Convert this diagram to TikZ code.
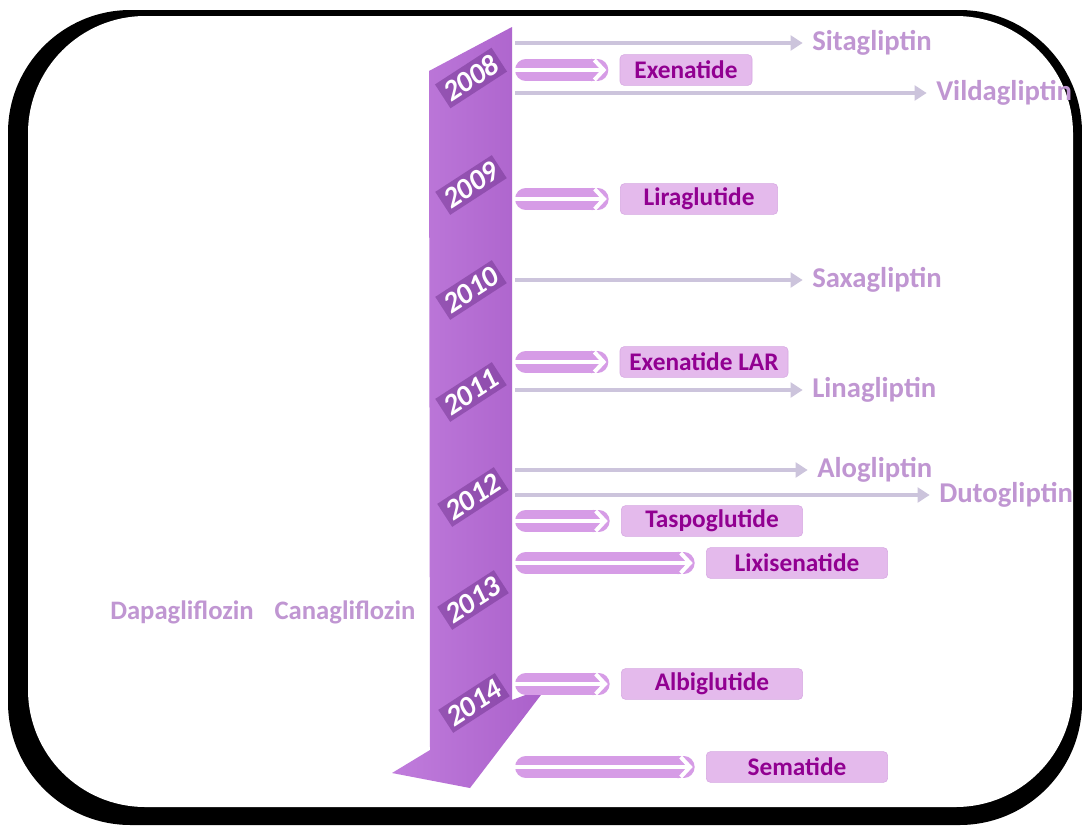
\documentclass[tikz,border=0pt]{standalone}
\usepackage{fontspec}
\setmainfont{Carlito}
\usetikzlibrary{arrows.meta,positioning,shapes,calc}
\definecolor{bandpurple}{RGB}{170,96,202}
\definecolor{bandlight}{RGB}{192,124,220}
\definecolor{banddark}{RGB}{105,45,135}
\definecolor{glpfill}{RGB}{228,186,236}
\definecolor{glpedge}{RGB}{214,168,226}
\definecolor{glptext}{RGB}{145,0,145}
\definecolor{glpglow}{RGB}{214,156,230}
\definecolor{dppline}{RGB}{204,196,220}
\definecolor{dpptext}{RGB}{192,150,210}

\begin{document}
\begin{tikzpicture}[x=0.75pt,y=-0.75pt,
      every node/.style={font=\bfseries\fontsize{19}{22}\selectfont},
      glpbox/.style={draw=glpedge,fill=glpfill,rounded corners=3pt,text=glptext,
                     minimum width=136pt,minimum height=23pt,inner sep=0pt},
      dpplbl/.style={text=dpptext,anchor=west,inner sep=0pt,
                     font=\bfseries\fontsize{21.5}{24}\selectfont},
      sgltlbl/.style={text=dpptext,font=\bfseries\fontsize{20}{24}\selectfont},
      yearlbl/.style={rotate=33,text=white,fill=banddark,fill opacity=0.45,text opacity=1,
                      inner sep=3pt,font=\bfseries\itshape\fontsize{22}{24}\selectfont},
      dpparr/.style={draw=dppline,line width=3pt,-{Triangle[length=9pt,width=11pt]},shorten >=7pt},
      glparr/.style={draw=white,line width=3pt,
                     -{Straight Barb[length=7pt,width=15pt,line width=3pt]},shorten >=10pt,
                     preaction={draw=glpglow,line width=16pt,line cap=round,
                                shorten <=8pt,shorten >=13pt}}]
    \useasboundingbox (0,0) rectangle (1082,825);
    % frame
    \fill[black,rounded corners=92pt] (8,10) rectangle (1082,825);
    \fill[white,rounded corners=88pt] (28,16) rectangle (1073,807);
    % timeline band
    \shade[left color=bandlight,right color=bandpurple]
      (429,71) -- (512,27) -- (512,700) -- (547,687) -- (470,788) -- (392,773) -- (430,750) -- cycle;
    \node[yearlbl] (y08) at (471,78)  {2008};
    \node[yearlbl] (y09) at (471,185) {2009};
    \node[yearlbl] (y10) at (471,290) {2010};
    \node[yearlbl] (y11) at (471,392) {2011};
    \node[yearlbl] (y12) at (473,497) {2012};
    \node[yearlbl] (y13) at (473,600) {2013};
    \node[yearlbl] (y14) at (474,703) {2014};
    % start points on the band
    \coordinate (s1) at (515,43);
    \coordinate (s2) at (515,70);
    \coordinate (s3) at (515,93);
    \coordinate (s4) at (515,199);
    \coordinate (s5) at (515,280);
    \coordinate (s6) at (515,362);
    \coordinate (s7) at (515,390);
    \coordinate (s8) at (515,470);
    \coordinate (s9) at (515,495);
    \coordinate (s10) at (515,521);
    \coordinate (s11) at (515,563);
    \coordinate (s12) at (515,684);
    \coordinate (s13) at (515,767);
    % GLP-1 boxes
    \node[glpbox,minimum width=99pt]    (exen)  at (686,70)  {Exenatide};
    \node[glpbox,minimum width=118pt]   (lira)  at (699,199) {Liraglutide};
    \node[glpbox,minimum width=126pt]   (exlar) at (704,362) {Exenatide LAR};
    \node[glpbox] (tasp) at (712,521) {Taspoglutide};
    \node[glpbox] (lixi) at (797,563) {Lixisenatide};
    \node[glpbox] (albi) at (712,684) {Albiglutide};
    \node[glpbox] (sema) at (797,767) {Sematide};
    % DPP-4 labels
    \node[dpplbl] (sita) at (812,43)  {Sitagliptin};
    \node[dpplbl] (vild) at (936,93)  {Vildagliptin};
    \node[dpplbl] (saxa) at (812,280) {Saxagliptin};
    \node[dpplbl] (lina) at (812,390) {Linagliptin};
    \node[dpplbl] (alog) at (817,470) {Alogliptin};
    \node[dpplbl] (duto) at (939,495) {Dutogliptin};
    % SGLT2
    \node[sgltlbl] (dapa) at (182,612) {Dapagliflozin};
    \node[sgltlbl] (cana) at (345,612) {Canagliflozin};
    \draw[dpparr] (s1) -- (sita);
    \draw[dpparr] (s3) -- (vild);
    \draw[dpparr] (s5) -- (saxa);
    \draw[dpparr] (s7) -- (lina);
    \draw[dpparr] (s8) -- (alog);
    \draw[dpparr] (s9) -- (duto);
    \draw[glparr] (s2) -- (exen);
    \draw[glparr] (s4) -- (lira);
    \draw[glparr] (s6) -- (exlar);
    \draw[glparr] (s10) -- (tasp);
    \draw[glparr] (s11) -- (lixi);
    \draw[glparr] (s12) -- (albi);
    \draw[glparr] (s13) -- (sema);
  \end{tikzpicture}
\end{document}
